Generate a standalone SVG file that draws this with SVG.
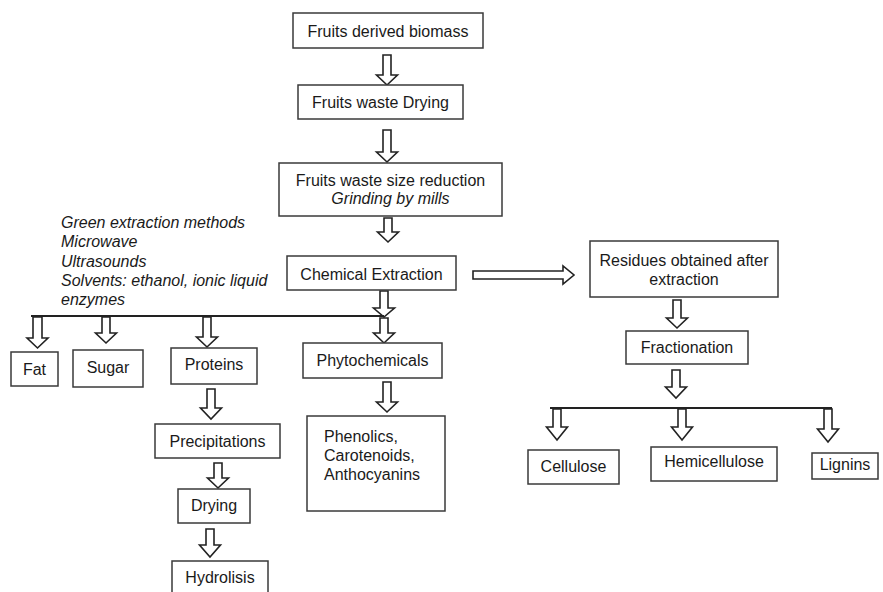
<svg xmlns="http://www.w3.org/2000/svg" width="883" height="592" viewBox="0 0 883 592">
<style>
.box{fill:#fff;stroke:#3a3a3a;stroke-width:1.5}
.arr{fill:#fff;stroke:#222;stroke-width:1.6;stroke-linejoin:miter}
.bar{stroke:#222;stroke-width:2.2;fill:none}
text{font-family:"Liberation Sans",Arial,sans-serif;font-size:16px;fill:#1a1a1a}
.c{text-anchor:middle}
.i{font-style:italic}
</style>
<rect width="883" height="592" fill="#fff"/>
<g id="connectors">
<path class="arr" d="M383 55 V75 H376.5 L387 85 L397.5 75 H391 V55 Z"/>
<path class="arr" d="M383 130 V152 H376.5 L387 162 L397.5 152 H391 V130 Z"/>
<path class="arr" d="M384 218 V232 H377.5 L388 242 L398.5 232 H392 V218 Z"/>
<path class="arr" d="M380 291 V308 H373.5 L384 317 L394.5 308 H388 V291 Z"/>
<line class="bar" x1="31" y1="316" x2="384" y2="316"/>
<path class="arr" d="M380 318 V333 H373.5 L384 343 L394.5 333 H388 V318 Z"/>
<path class="arr" d="M33 317 V338 H27 L37.5 348 L48 338 H42 V317 Z"/>
<path class="arr" d="M102 317 V333 H95.5 L106 343 L116.5 333 H110 V317 Z"/>
<path class="arr" d="M203 317 V337 H196.5 L207 347 L217.5 337 H211 V317 Z"/>
<path class="arr" d="M383 382 V402 H376.5 L387 412 L397.5 402 H391 V382 Z"/>
<path class="arr" d="M207 389 V408 H200.5 L211 419 L221.5 408 H215 V389 Z"/>
<path class="arr" d="M214 463 V478 H207.5 L218 488 L228.5 478 H222 V463 Z"/>
<path class="arr" d="M206 529 V545 H199.5 L210 557 L220.5 545 H214 V529 Z"/>
<path class="arr" d="M473 271 H563 V266 L574 275 L563 284 V279 H473 Z"/>
<path class="arr" d="M673 300 V318 H666.5 L677 328 L687.5 318 H681 V300 Z"/>
<path class="arr" d="M672 370 V387 H665.5 L676 398 L686.5 387 H680 V370 Z"/>
<line class="bar" x1="550" y1="408" x2="832" y2="408"/>
<path class="arr" d="M553 409 V427 H546.5 L557 440 L567.5 427 H561 V409 Z"/>
<path class="arr" d="M678 409 V427 H671.5 L682 440 L692.5 427 H686 V409 Z"/>
<path class="arr" d="M824 409 V429 H817.5 L828 442 L838.5 429 H832 V409 Z"/>
</g>
<g id="n-biomass"><rect class="box" x="293" y="13" width="190" height="35"/><text class="c" x="388" y="37">Fruits derived biomass</text></g>
<g id="n-drying1"><rect class="box" x="298" y="85" width="165" height="34"/><text class="c" x="380.5" y="108">Fruits waste Drying</text></g>
<g id="n-size"><rect class="box" x="279" y="163" width="223" height="53"/><text class="c" x="390.5" y="186">Fruits waste size reduction</text><text class="c i" x="390.5" y="204">Grinding by mills</text></g>
<g id="n-methods"><text class="i" x="61" y="228">Green extraction methods</text><text class="i" x="61" y="247">Microwave</text><text class="i" x="61" y="267">Ultrasounds</text><text class="i" x="61" y="286">Solvents: ethanol, ionic liquid</text><text class="i" x="61" y="305">enzymes</text></g>
<g id="n-chem"><rect class="box" x="287" y="256" width="169" height="34"/><text class="c" x="371.5" y="280">Chemical Extraction</text></g>
<g id="n-residues"><rect class="box" x="590" y="241" width="188" height="56"/><text class="c" x="684" y="266">Residues obtained after</text><text class="c" x="684" y="285">extraction</text></g>
<g id="n-fat"><rect class="box" x="11" y="352" width="47" height="34"/><text class="c" x="34.5" y="375">Fat</text></g>
<g id="n-sugar"><rect class="box" x="73" y="350" width="70" height="37"/><text class="c" x="108" y="373">Sugar</text></g>
<g id="n-proteins"><rect class="box" x="171" y="348" width="86" height="36"/><text class="c" x="214" y="370">Proteins</text></g>
<g id="n-phyto"><rect class="box" x="303" y="343" width="139" height="35"/><text class="c" x="372.5" y="366">Phytochemicals</text></g>
<g id="n-phenolics"><rect class="box" x="307" y="416" width="138" height="95"/><text x="324" y="442">Phenolics,</text><text x="324" y="461">Carotenoids,</text><text x="324" y="480">Anthocyanins</text></g>
<g id="n-precip"><rect class="box" x="155" y="424" width="125" height="34"/><text class="c" x="217.5" y="447">Precipitations</text></g>
<g id="n-drying2"><rect class="box" x="178" y="489" width="72" height="34"/><text class="c" x="214" y="511">Drying</text></g>
<g id="n-hydro"><rect class="box" x="172" y="561" width="96" height="40"/><text class="c" x="220" y="583">Hydrolisis</text></g>
<g id="n-fract"><rect class="box" x="626" y="331" width="122" height="33"/><text class="c" x="687" y="353">Fractionation</text></g>
<g id="n-cell"><rect class="box" x="528" y="450" width="91" height="34"/><text class="c" x="573.5" y="472">Cellulose</text></g>
<g id="n-hemi"><rect class="box" x="651" y="447" width="126" height="34"/><text class="c" x="714" y="467">Hemicellulose</text></g>
<g id="n-lig"><rect class="box" x="812" y="453" width="66" height="26"/><text class="c" x="845" y="470">Lignins</text></g>
</svg>
